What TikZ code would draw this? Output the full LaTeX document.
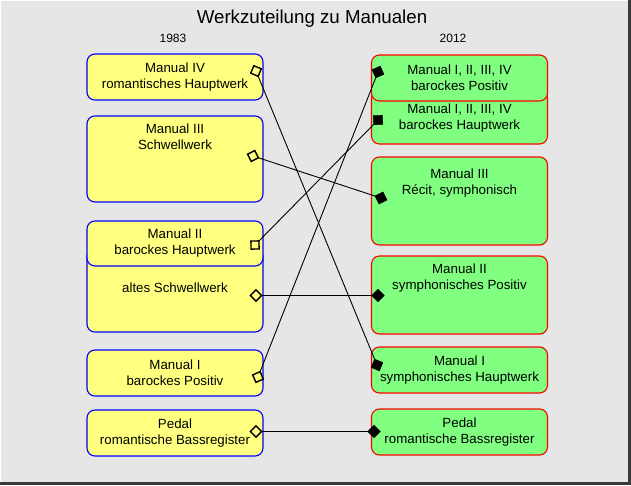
\documentclass[tikz,border=0pt]{standalone}
\usepackage{fontspec}
\setmainfont{Liberation Sans}
\usetikzlibrary{arrows.meta,positioning}
\definecolor{bgGray}{HTML}{E6E6E6}
\definecolor{frameDark}{HTML}{3A3A3A}
\definecolor{oldFill}{HTML}{FFFF80}
\definecolor{newFill}{HTML}{80FF80}
\tikzset{
  oldbox/.style={draw=blue, fill=oldFill, line width=1.1pt, rounded corners=8pt,
    minimum width=176pt, inner sep=0pt, align=center, font=\fontsize{13.3}{16}\selectfont},
  newbox/.style={oldbox, draw=red, fill=newFill},
  boxtext/.style={align=center, inner sep=0pt, font=\fontsize{13.3}{16}\selectfont},
  link/.style={line width=0.9pt, shorten <=-6.7pt, shorten >=-6.7pt,
    {Diamond[open,length=13.4pt,width=13.4pt,line width=1.4pt]}-{Diamond[length=13.4pt,width=13.4pt]}}
}
\begin{document}
\begin{tikzpicture}[x=1pt,y=-1pt]
  \useasboundingbox (0,0) rectangle (631,485);

  % Background and frame
  \fill[frameDark] (0,0) rectangle (631,485);
  \fill[bgGray] (0,0) rectangle (628,482);
  \draw[white, line width=1pt] (0.5,481.5) -- (0.5,0.5) -- (627.5,0.5);

  % Title and years
  \node[font=\fontsize{18.7}{22}\selectfont] (title) at (312,19) {Werkzuteilung zu Manualen};
  \node[font=\fontsize{12}{14}\selectfont] (yold) at (173,38) {1983};
  \node[font=\fontsize{12}{14}\selectfont] (ynew) at (453,38) {2012};

  % 1983 divisions
  \node[oldbox, minimum height=46pt] (o4) at (175,77) {Manual IV\\romantisches Hauptwerk};
  \node[oldbox, minimum height=86pt] (o3) at (175,159) {};
  \node[boxtext] (o3text) at (175,137) {Manual III\\Schwellwerk};
  \node[oldbox, minimum height=84pt] (osw) at (175,290) {};
  \node[boxtext] (oswtext) at (175,288) {altes Schwellwerk};
  \node[oldbox, minimum height=45pt] (o2) at (175,243.5) {Manual II\\barockes Hauptwerk};
  \node[oldbox, minimum height=46pt] (o1) at (175,373) {Manual I\\barockes Positiv};
  \node[oldbox, minimum height=46pt] (oped) at (175,433) {Pedal\\romantische Bassregister};

  % 2012 divisions
  \node[newbox, minimum height=54pt] (nhw) at (459.5,117) {};
  \node[boxtext] (nhwtext) at (459.5,118.5) {Manual I, II, III, IV\\barockes Hauptwerk};
  \node[newbox, minimum height=46pt] (npos) at (459.5,78) {Manual I, II, III, IV\\barockes Positiv};
  \node[newbox, minimum height=88pt] (n3) at (459.5,201) {};
  \node[boxtext] (n3text) at (459.5,183.5) {Manual III\\R\'ecit, symphonisch};
  \node[newbox, minimum height=78pt] (n2) at (459.5,295) {};
  \node[boxtext] (n2text) at (459.5,278) {Manual II\\symphonisches Positiv};
  \node[newbox, minimum height=46pt] (n1) at (459.5,370) {Manual I\\symphonisches Hauptwerk};
  \node[newbox, minimum height=46pt] (nped) at (459.5,432) {Pedal\\romantische Bassregister};

  % Marker points
  \coordinate (m-o4) at (256,71);
  \coordinate (m-o3) at (253,156);
  \coordinate (m-o2) at (255,245);
  \coordinate (m-osw) at (256,295.5);
  \coordinate (m-o1) at (258,377);
  \coordinate (m-oped) at (256,431.5);
  \coordinate (m-npos) at (378,72);
  \coordinate (m-nhw) at (378,120);
  \coordinate (m-n3) at (381,198);
  \coordinate (m-n2) at (378,295.5);
  \coordinate (m-n1) at (377,365);
  \coordinate (m-nped) at (374,431.5);

  % Links
  \draw[link] (m-o4) -- (m-n1);
  \draw[link] (m-o3) -- (m-n3);
  \draw[link] (m-o2) -- (m-nhw);
  \draw[link] (m-osw) -- (m-n2);
  \draw[link] (m-o1) -- (m-npos);
  \draw[link] (m-oped) -- (m-nped);
\end{tikzpicture}
\end{document}
